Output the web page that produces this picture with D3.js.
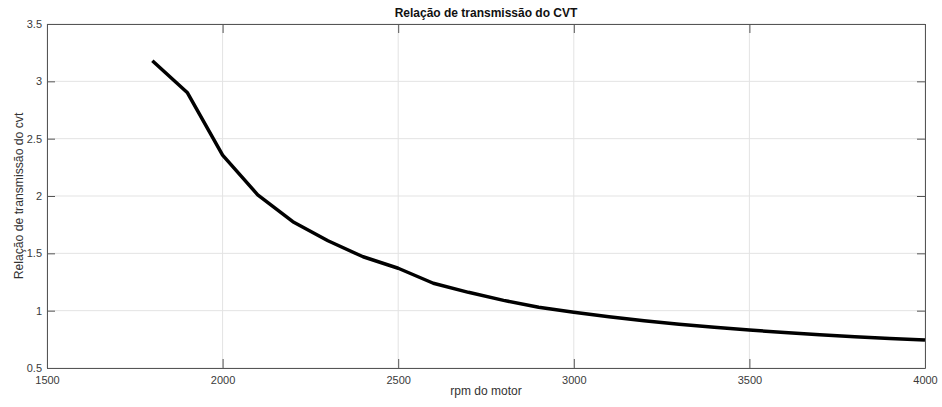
<!DOCTYPE html>
<html>
<head>
<meta charset="utf-8">
<script src="https://cdn.jsdelivr.net/npm/d3@7"></script>
<style>
  body { margin: 0; background: #fff; }
  text { font-family: "Liberation Sans", Arial, sans-serif; }
  .tick text { fill: #3a3a3a; font-size: 11px; }
</style>
</head>
<body>
<script>
var rpm = [1800, 1900, 2000, 2100, 2200, 2300, 2400, 2500, 2600, 2700, 2800, 2900, 3000,
           3100, 3200, 3300, 3400, 3500, 3600, 3700, 3800, 3900, 4000];
var ratio = [3.18, 2.90, 2.357, 2.01, 1.776, 1.61, 1.47, 1.37, 1.239, 1.16, 1.09, 1.03, 0.986,
             0.947, 0.912, 0.882, 0.855, 0.831, 0.81, 0.79, 0.773, 0.758, 0.744];
var xTicks = [1500, 2000, 2500, 3000, 3500, 4000];
var yTicks = [0.5, 1, 1.5, 2, 2.5, 3, 3.5];

var W = 942, H = 407;
var m = {left: 47, right: 17, top: 24, bottom: 39};

var svg = d3.select("body").append("svg")
    .attr("width", W)
    .attr("height", H);

var x = d3.scaleLinear().domain([1500, 4000]).range([m.left, W - m.right]);
var y = d3.scaleLinear().domain([0.5, 3.5]).range([H - m.bottom, m.top]);

// grid
svg.append("g").selectAll("line").data(xTicks).enter().append("line")
    .attr("x1", d => x(d)).attr("x2", d => x(d))
    .attr("y1", m.top).attr("y2", H - m.bottom)
    .attr("stroke", "#e3e3e3").attr("stroke-width", 1);
svg.append("g").selectAll("line").data(yTicks).enter().append("line")
    .attr("y1", d => y(d)).attr("y2", d => y(d))
    .attr("x1", m.left).attr("x2", W - m.right)
    .attr("stroke", "#e3e3e3").attr("stroke-width", 1);

// axes with inward ticks, box on all sides
var fmt = d3.format("");
function styleAxis(g) {
  g.select(".domain").attr("stroke", "#555");
  g.selectAll(".tick line").attr("stroke", "#555");
}
svg.append("g").attr("transform", "translate(0," + (H - m.bottom) + ")")
    .call(d3.axisBottom(x).tickValues(xTicks).tickSizeInner(-9).tickSizeOuter(0).tickPadding(8).tickFormat(fmt))
    .call(styleAxis);
svg.append("g").attr("transform", "translate(0," + m.top + ")")
    .call(d3.axisTop(x).tickValues(xTicks).tickSizeInner(-9).tickSizeOuter(0).tickFormat(""))
    .call(styleAxis);
svg.append("g").attr("transform", "translate(" + m.left + ",0)")
    .call(d3.axisLeft(y).tickValues(yTicks).tickSizeInner(-8).tickSizeOuter(0).tickPadding(5).tickFormat(fmt))
    .call(styleAxis);
svg.append("g").attr("transform", "translate(" + (W - m.right) + ",0)")
    .call(d3.axisRight(y).tickValues(yTicks).tickSizeInner(-8).tickSizeOuter(0).tickFormat(""))
    .call(styleAxis);

// line
var line = d3.line().x((d, i) => x(rpm[i])).y(d => y(d));
svg.append("path")
    .datum(ratio)
    .attr("d", line)
    .attr("fill", "none")
    .attr("stroke", "#000")
    .attr("stroke-width", 3.5)
    .attr("stroke-linejoin", "round");

// labels
svg.append("text")
    .attr("x", (m.left + W - m.right) / 2).attr("y", 17)
    .attr("text-anchor", "middle")
    .style("font-size", "12px").style("font-weight", "bold").attr("fill", "#111")
    .text("Relação de transmissão do CVT");
svg.append("text")
    .attr("x", (m.left + W - m.right) / 2).attr("y", 395)
    .attr("text-anchor", "middle")
    .style("font-size", "12px").attr("fill", "#333")
    .text("rpm do motor");
svg.append("text")
    .attr("transform", "translate(23," + (m.top + H - m.bottom) / 2 + ") rotate(-90)")
    .attr("text-anchor", "middle")
    .style("font-size", "12.2px").attr("fill", "#333")
    .text("Relação de transmissão do cvt");
</script>
</body>
</html>
